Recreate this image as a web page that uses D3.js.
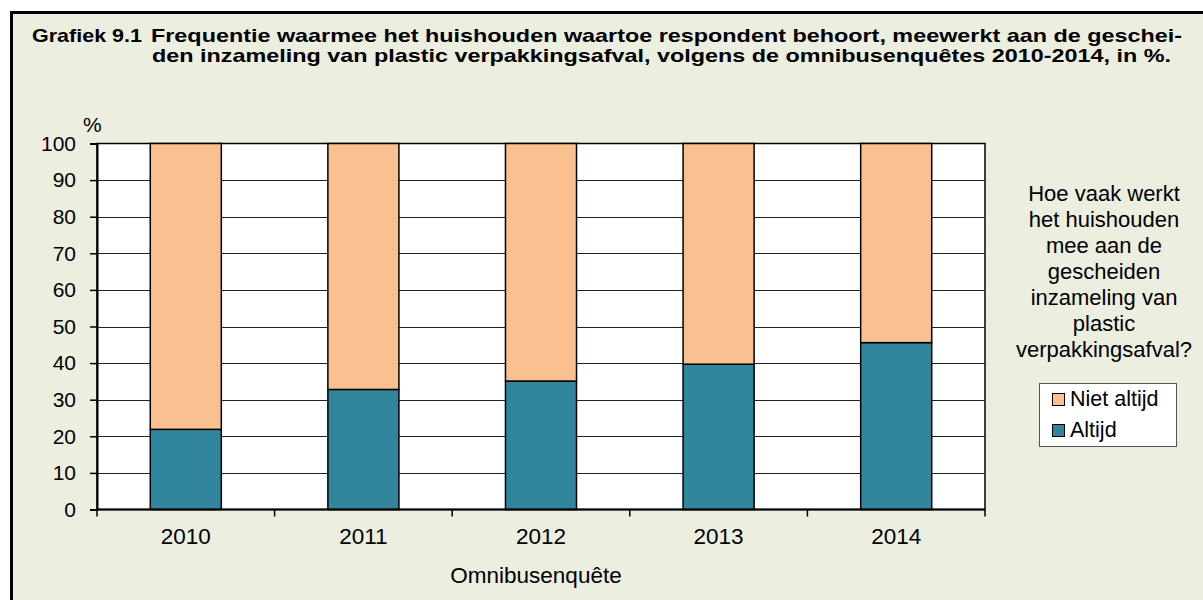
<html>
<head>
<meta charset="utf-8">
<title>Grafiek 9.1</title>
<style>
body { margin:0; background:#fff; }
text { font-family: Arial, "Liberation Sans", sans-serif; fill:#000; }
</style>
</head>
<body>
<svg width='1203' height='600'></svg>
<script src="https://d3js.org/d3.v7.min.js"></script>
<script>

var years = ['2010','2011','2012','2013','2014'];
var altijd = [21.9, 32.8, 35.1, 39.7, 45.6];
var nietAltijd = [78.1, 67.2, 64.9, 60.3, 54.4];
var yticks = [0,10,20,30,40,50,60,70,80,90,100];
var seriesNames = ['Niet altijd','Altijd'];
var legendTitle = ['Hoe vaak werkt','het huishouden','mee aan de','gescheiden','inzameling van','plastic','verpakkingsafval?'];
var titleLines = ['Frequentie waarmee het huishouden waartoe respondent behoort, meewerkt aan de geschei-',
                  'den inzameling van plastic verpakkingsafval, volgens de omnibusenquêtes 2010-2014, in %.'];

var svg = d3.select('svg');

// background + frame
svg.append('rect').attr('x',11.5).attr('y',12.5).attr('width',1200).attr('height',600)
  .style('fill','#ECEEDF').style('stroke','#000').style('stroke-width',3);

// title
svg.append('text').attr('x',32).attr('y',42).text('Grafiek 9.1')
  .style('font-weight','bold').style('font-size','19px')
  .attr('textLength',110).attr('lengthAdjust','spacingAndGlyphs');
svg.append('text').attr('x',151).attr('y',42).text(titleLines[0])
  .style('font-weight','bold').style('font-size','19px')
  .attr('textLength',1031).attr('lengthAdjust','spacingAndGlyphs');
svg.append('text').attr('x',152).attr('y',62).text(titleLines[1])
  .style('font-weight','bold').style('font-size','19px')
  .attr('textLength',1019).attr('lengthAdjust','spacingAndGlyphs');

var pLeft = 97, pRight = 985, pTop = 143.5, pBottom = 509.5;

var x = d3.scaleBand().domain(years).range([pLeft,pRight]).paddingInner(0.6).paddingOuter(0.3);
var y = d3.scaleLinear().domain([0,100]).range([pBottom,pTop]);

// plot area
svg.append('rect').attr('x',pLeft).attr('y',pTop).attr('width',pRight-pLeft).attr('height',pBottom-pTop)
  .style('fill','#fff').style('stroke','#000').style('stroke-width',1.5);

// gridlines
svg.selectAll('.grid').data(yticks.slice(1,-1)).enter().append('line')
  .attr('x1',pLeft).attr('x2',pRight)
  .attr('y1',function(d){ return Math.round(y(d))+0.5; })
  .attr('y2',function(d){ return Math.round(y(d))+0.5; })
  .style('stroke','#222').style('stroke-width',1.2);

// y axis
var yAxis = svg.append('g').attr('transform','translate('+pLeft+',0)')
  .call(d3.axisLeft(y).tickValues(yticks).tickSize(7).tickPadding(14));
yAxis.select('.domain').style('stroke','#000').style('stroke-width',2);
yAxis.selectAll('.tick line').style('stroke','#000').style('stroke-width',1.5);
yAxis.selectAll('.tick text').style('font-size','21px').style('font-family','Arial, "Liberation Sans", sans-serif').attr('fill','#000');

svg.append('text').attr('x',83).attr('y',132).text('%').style('font-size','21px');

// bars
var stackData = years.map(function(d,i){ return {year:d, altijd:altijd[i], niet:nietAltijd[i]}; });

svg.selectAll('.b1').data(stackData).enter().append('rect')
  .attr('x',function(d){ return x(d.year); })
  .attr('width',x.bandwidth())
  .attr('y',function(d){ return y(d.altijd); })
  .attr('height',function(d){ return y(0)-y(d.altijd); })
  .style('fill','#31859C').style('stroke','#000').style('stroke-width',1.5);

svg.selectAll('.b2').data(stackData).enter().append('rect')
  .attr('x',function(d){ return x(d.year); })
  .attr('width',x.bandwidth())
  .attr('y',function(d){ return y(d.altijd+d.niet); })
  .attr('height',function(d){ return y(d.altijd)-y(d.altijd+d.niet); })
  .style('fill','#FAC090').style('stroke','#000').style('stroke-width',1.5);

// x axis
svg.append('line').attr('x1',pLeft).attr('x2',pRight).attr('y1',pBottom).attr('y2',pBottom)
  .style('stroke','#000').style('stroke-width',2);
var bounds = years.map(function(d){ return x(d) - x.step()*0.3; });
bounds.push(pRight);
svg.selectAll('.xt').data(bounds).enter().append('line')
  .attr('x1',function(d){ return d; }).attr('x2',function(d){ return d; })
  .attr('y1',pBottom).attr('y2',pBottom+7)
  .style('stroke','#000').style('stroke-width',1.5);

svg.selectAll('.xl').data(years).enter().append('text')
  .attr('x',function(d){ return x(d)+x.bandwidth()/2; })
  .attr('y',544)
  .attr('text-anchor','middle')
  .style('font-size','22.5px')
  .text(function(d){ return d; });

svg.append('text').attr('x',536).attr('y',583).attr('text-anchor','middle')
  .style('font-size','22.5px').text('Omnibusenquête');

// legend title
svg.selectAll('.lt').data(legendTitle).enter().append('text')
  .attr('x',1104)
  .attr('y',function(d,i){ return 201 + i*26; })
  .attr('text-anchor','middle')
  .style('font-size','22px')
  .text(function(d){ return d; });

// legend
svg.append('rect').attr('x',1039.5).attr('y',383.5).attr('width',137).attr('height',63)
  .style('fill','#fff').style('stroke','#555').style('stroke-width',1);
var legColors = ['#FAC090','#31859C'];
svg.selectAll('.ls').data(seriesNames).enter().append('rect')
  .attr('x',1052.5)
  .attr('y',function(d,i){ return 393.5 + i*31; })
  .attr('width',12).attr('height',12)
  .style('fill',function(d,i){ return legColors[i]; })
  .style('stroke','#000').style('stroke-width',1);
svg.selectAll('.ltx').data(seriesNames).enter().append('text')
  .attr('x',1070)
  .attr('y',function(d,i){ return 406 + i*31; })
  .style('font-size','21.5px')
  .text(function(d){ return d; });

</script>
</body>
</html>
